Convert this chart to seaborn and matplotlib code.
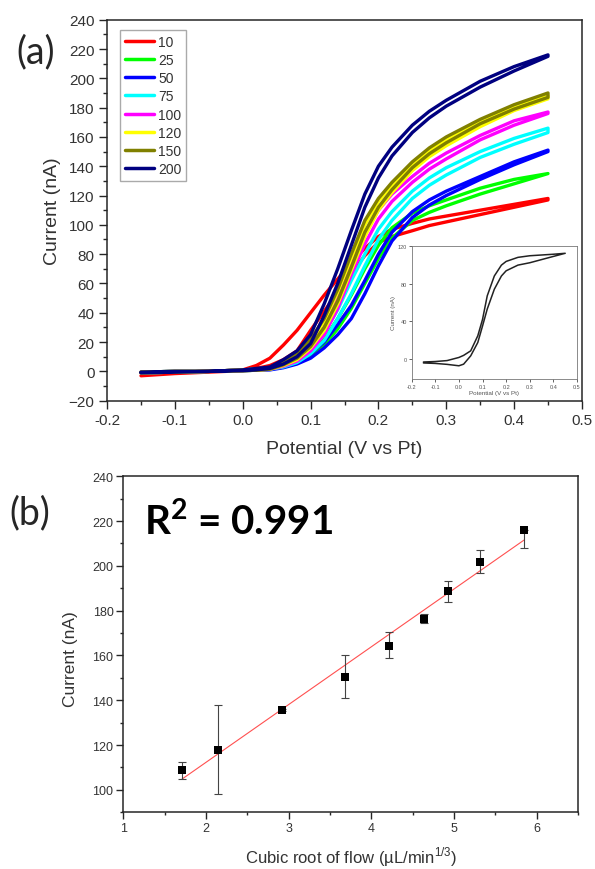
import numpy as np
import pandas as pd
import matplotlib
matplotlib.use('Agg')
import matplotlib.pyplot as plt
import seaborn as sns
from matplotlib.ticker import MultipleLocator

sns.set_style('ticks')
plt.rcParams['font.family'] = ['Liberation Sans', 'DejaVu Sans']
plt.rcParams['mathtext.fontset'] = 'custom'
plt.rcParams['mathtext.rm'] = 'Liberation Sans'
plt.rcParams['mathtext.bf'] = 'Lato:bold'

# ---- panel (a): CV curves, potential grid (V vs Pt) ----
potential = [-0.15, -0.10, -0.05, 0.00, 0.02, 0.04, 0.06, 0.08, 0.10, 0.12, 0.14,
             0.16, 0.18, 0.20, 0.22, 0.25, 0.275, 0.30, 0.35, 0.40, 0.45]

# forward sweep (lower branch) and reverse sweep (upper branch), nA
fwd_10 = [-3, -1.5, -0.5, 0.5, 2, 4, 8, 14, 28, 41, 54, 67, 79, 88, 92, 96, 99.5, 102, 107, 112, 117]
rev_10 = [-1, -0.5, 0, 1, 4, 9, 18, 28, 40, 52, 63, 74, 84, 92, 97, 101, 104, 106, 110, 114, 118]
fwd_25 = [-1, -0.5, 0, 0.5, 0.8, 1.5, 3, 6, 11, 18, 29, 43, 60, 77, 91, 103, 108.5, 113, 121, 128, 135]
rev_25 = [-0.5, 0, 0, 1, 1.5, 2, 5, 9, 15, 22, 36, 52, 70, 86, 98, 108, 113, 117, 125, 131, 135]
fwd_50 = [-1, -0.5, 0, 0.5, 0.8, 1, 2.5, 5, 9, 16, 25, 36, 53, 72, 89, 105, 113.5, 120, 131, 141, 150]
rev_50 = [-0.5, 0, 0, 1, 1.5, 2, 4, 7, 12, 20, 32, 45, 62, 80, 95, 109, 117, 123, 133, 143, 151]
fwd_75 = [-1, -0.5, 0, 0.5, 0.8, 1.5, 3, 6, 12, 21, 36, 53, 72, 90, 103, 118, 127, 134, 146, 155, 163]
rev_75 = [-0.5, 0, 0, 1, 1.5, 2, 5, 9, 16, 26, 42, 62, 80, 97, 109, 123, 132, 139, 150, 159, 166]
fwd_100 = [-1, -0.5, 0, 0.5, 0.8, 1.5, 3.5, 7, 14, 25, 43, 66, 87, 104, 116, 129, 138, 145, 158, 168, 176]
rev_100 = [-0.5, 0, 0, 1, 1.5, 2, 6, 10, 18, 30, 50, 74, 94, 110, 121, 133, 142, 149, 161, 171, 177]
fwd_120 = [-1, -0.5, 0, 0.5, 0.8, 1.5, 4, 8, 16, 28, 46, 69, 92, 110, 122, 137, 146.5, 154, 167, 178, 186]
rev_120 = [-0.5, 0, 0, 1, 1.5, 2.5, 6.5, 11, 20, 34, 54, 77, 100, 116, 127, 141, 150.5, 158, 170, 180, 188]
fwd_150 = [-1, -0.5, 0, 0.5, 0.8, 1.5, 4.5, 9, 17, 30, 48, 71, 95, 112, 124, 139, 148.5, 156, 169, 179, 187]
rev_150 = [-0.5, 0, 0, 1, 1.5, 2.5, 7, 12, 22, 36, 56, 80, 103, 118, 129, 143, 152.5, 160, 172, 182, 190]
fwd_200 = [-1, -0.5, 0, 0.5, 1, 2, 5, 10, 19, 38, 60, 86, 112, 132, 147, 163, 173, 181, 194, 205, 215]
rev_200 = [-0.5, 0, 0, 1, 2, 3, 8, 14, 25, 46, 70, 96, 121, 140, 153, 168, 177.5, 185, 198, 208, 216]

flows = ['10', '25', '50', '75', '100', '120', '150', '200']
flow_colors = ['#ff0000', '#00ff00', '#0000ff', '#00ffff',
               '#ff00ff', '#ffff00', '#808000', '#000080']

# inset: single CV loop
inset_potential = [-0.15, -0.10, -0.05, 0.00, 0.02, 0.05, 0.08, 0.10,
                   0.12, 0.15, 0.18, 0.20, 0.25, 0.30, 0.40, 0.45]
inset_fwd = [-4, -4.5, -5.5, -7, -5.3, 3.5, 17.6, 35, 53, 74, 88, 93.5, 99.5, 102, 108.7, 112]
inset_rev = [-3, -2.5, -1.5, 1.8, 4, 8.8, 24.7, 42, 67, 88, 99.5, 103.4, 107.7, 109.4, 111, 112]

# ---- panel (b): limiting current vs cubic root of flow ----
cuberoot_flow = [1.71, 2.15, 2.92, 3.68, 4.22, 4.64, 4.93, 5.31, 5.85]
lim_current = [108.8, 117.8, 135.6, 150.6, 164.3, 176.3, 188.6, 201.8, 215.8]
err_low = [4.0, 19.6, 0.5, 9.8, 5.6, 2.0, 4.9, 5.2, 7.8]
err_high = [3.7, 19.9, 0.5, 9.5, 6.0, 2.1, 4.6, 5.1, 0.0]

sweeps = {'10': (fwd_10, rev_10), '25': (fwd_25, rev_25), '50': (fwd_50, rev_50),
          '75': (fwd_75, rev_75), '100': (fwd_100, rev_100), '120': (fwd_120, rev_120),
          '150': (fwd_150, rev_150), '200': (fwd_200, rev_200)}
rows = []
for fl in flows:
    f, r = sweeps[fl]
    for e, i in zip(potential, f):
        rows.append((fl, e, i))
    for e, i in zip(potential[::-1], r[::-1]):
        rows.append((fl, e, i))
cv = pd.DataFrame(rows, columns=['flow', 'E', 'I'])

inset_df = pd.DataFrame({'E': inset_potential + inset_potential[::-1],
                         'I': inset_fwd + inset_rev[::-1]})

txt = '#333333'
fig = plt.figure(figsize=(5.95, 8.7), dpi=100)
ax_a = fig.add_axes([0.180, 0.5383, 0.798, 0.4379])
ax_b = fig.add_axes([0.2072, 0.0652, 0.7642, 0.3862])

sns.lineplot(data=cv, x='E', y='I', hue='flow', hue_order=flows,
             palette=dict(zip(flows, flow_colors)), sort=False,
             estimator=None, lw=2.4, ax=ax_a)
ax_a.set_xlim(-0.2, 0.5)
ax_a.set_ylim(-20, 240)
ax_a.xaxis.set_minor_locator(MultipleLocator(0.05))
ax_a.yaxis.set_major_locator(MultipleLocator(20))
ax_a.yaxis.set_minor_locator(MultipleLocator(10))
ax_a.set_xticks(np.arange(-0.2, 0.51, 0.1))
ax_a.set_xticklabels(['-0.2', '-0.1', '0.0', '0.1', '0.2', '0.3', '0.4', '0.5'])
ax_a.tick_params(which='major', length=6, width=1, labelsize=11, labelcolor=txt, pad=3)
ax_a.tick_params(which='minor', length=3, width=1)
ax_a.set_xlabel('Potential (V vs Pt)', fontsize=14, color=txt)
ax_a.set_ylabel('Current (nA)', fontsize=14, color=txt)
ax_a.xaxis.set_label_coords(0.5, -0.103, transform=ax_a.transAxes)
ax_a.yaxis.set_label_coords(-0.097, 0.5, transform=ax_a.transAxes)
for s in ax_a.spines.values():
    s.set_linewidth(1.1)
    s.set_visible(True)

handles, labels = ax_a.get_legend_handles_labels()
for h in handles:
    h.set_linewidth(2.5)
leg = ax_a.legend(handles, labels, loc='upper left', bbox_to_anchor=(0.027, 0.973),
                  borderaxespad=0, fontsize=10, handlelength=2.1, handletextpad=0.3,
                  labelspacing=0.3, frameon=True, fancybox=False, framealpha=1,
                  edgecolor='#aaaaaa', borderpad=0.35)
for t in leg.get_texts():
    t.set_color(txt)

ax_in = fig.add_axes([0.6918, 0.5632, 0.278, 0.1532])
sns.lineplot(data=inset_df, x='E', y='I', sort=False, estimator=None,
             color='#222222', lw=1.1, ax=ax_in)
ax_in.set_xlim(-0.2, 0.5)
ax_in.set_ylim(-21, 120)
ax_in.set_xticks(np.arange(-0.2, 0.51, 0.1))
ax_in.set_xticklabels(['-0.2', '-0.1', '0.0', '0.1', '0.2', '0.3', '0.4', '0.5'])
ax_in.set_yticks([0, 40, 80, 120])
ax_in.tick_params(length=2, width=0.5, labelsize=4, labelcolor='#555555', pad=1.5)
ax_in.set_xlabel('Potential (V vs Pt)', fontsize=4.5, color='#555555', labelpad=1)
ax_in.set_ylabel('Current (nA)', fontsize=4.5, color='#555555', labelpad=1)
for s in ax_in.spines.values():
    s.set_linewidth(0.6)
    s.set_color('#777777')
    s.set_visible(True)

# panel (b)
sns.regplot(x=cuberoot_flow, y=lim_current, scatter=False, ci=None, truncate=True,
            line_kws=dict(color='#ff5050', lw=0.8), ax=ax_b)
ax_b.errorbar(cuberoot_flow, lim_current, yerr=[err_low, err_high], fmt='none',
              ecolor='#444444', elinewidth=0.8, capsize=3, capthick=0.8)
sns.scatterplot(x=cuberoot_flow, y=lim_current, marker='s', s=36, color='black',
                edgecolor='black', linewidth=0, ax=ax_b, zorder=3)
ax_b.set_xlim(1, 6.5)
ax_b.set_ylim(90, 240)
ax_b.xaxis.set_major_locator(MultipleLocator(1))
ax_b.xaxis.set_minor_locator(MultipleLocator(0.5))
ax_b.set_yticks(np.arange(100, 241, 20))
ax_b.yaxis.set_minor_locator(MultipleLocator(10))
ax_b.tick_params(which='major', length=5, width=1, labelsize=9, labelcolor=txt, pad=2)
ax_b.tick_params(which='minor', length=2.5, width=1)
ax_b.set_xlabel('Cubic root of flow (µL/min$^{1/3}$)', fontsize=12, color=txt)
ax_b.set_ylabel('Current (nA)', fontsize=12.5, color=txt)
ax_b.xaxis.set_label_coords(0.5, -0.095, transform=ax_b.transAxes)
ax_b.yaxis.set_label_coords(-0.10, 0.46, transform=ax_b.transAxes)
for s in ax_b.spines.values():
    s.set_linewidth(1.1)
    s.set_visible(True)

ax_b.text(0.045, 0.828, r'R$^{\mathbf{2}}$ = 0.991', transform=ax_b.transAxes,
          fontsize=29, fontweight='bold', family='Lato', color='black',
          ha='left', va='baseline')

fig.text(0.0605, 0.940, '(a)', fontsize=27, family='Lato', ha='center', va='center')
fig.text(0.0496, 0.4098, '(b)', fontsize=27, family='Lato', ha='center', va='center')

fig.savefig('out.png', dpi=100)
